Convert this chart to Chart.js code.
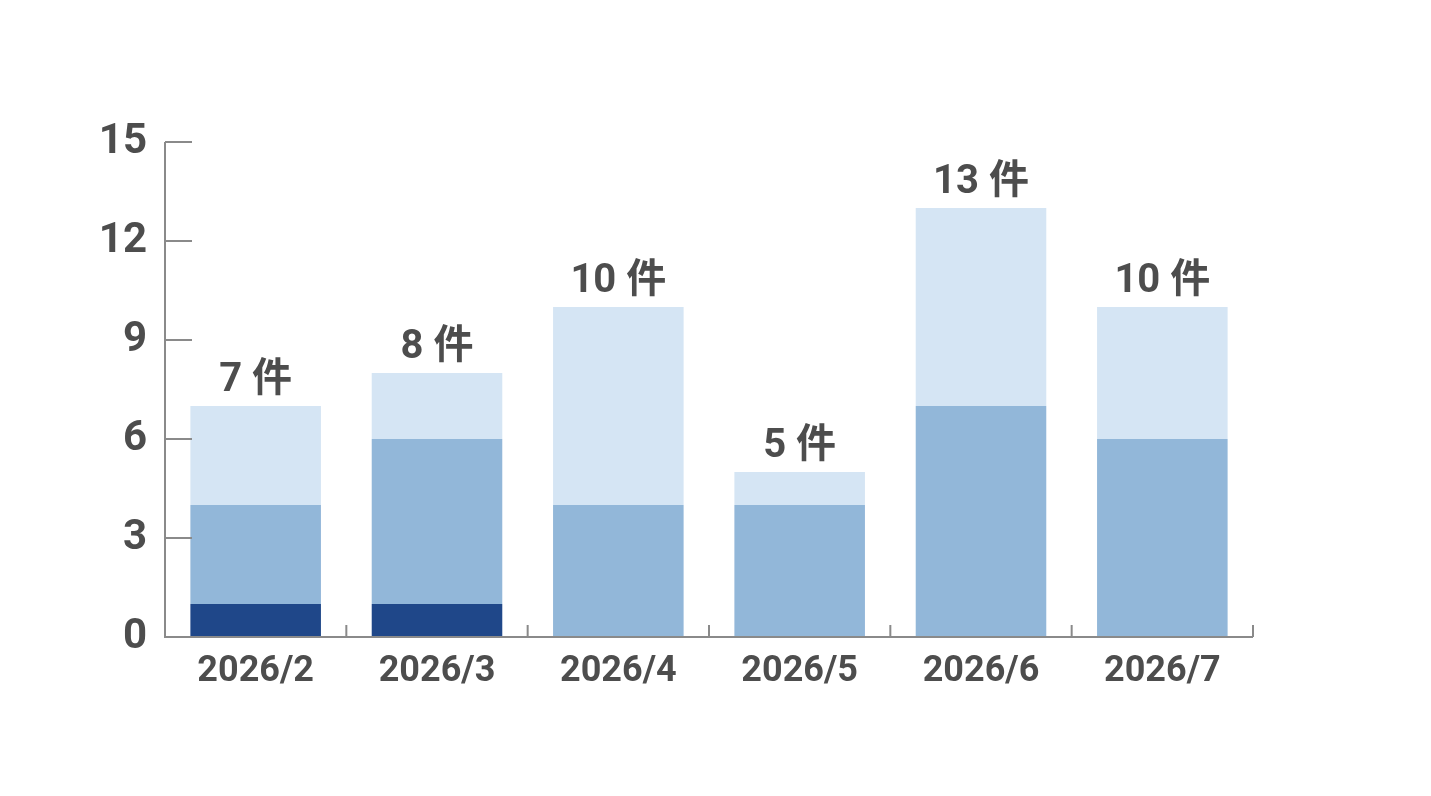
<!DOCTYPE html>
<html>
<head>
<meta charset="utf-8">
<script src="https://cdn.jsdelivr.net/npm/chart.js@4"></script>
<style>
  html, body { margin: 0; padding: 0; background: #fff; }
  #wrap { width: 1431px; height: 796px; }
</style>
</head>
<body>
<div id="wrap"><canvas id="bar-chart"></canvas></div>
<script>
"use strict";

const months = ["2026/2", "2026/3", "2026/4", "2026/5", "2026/6", "2026/7"];
const darkCounts = [1, 1, 0, 0, 0, 0];
const midCounts = [3, 5, 4, 4, 7, 6];
const lightCounts = [3, 2, 6, 1, 6, 4];
const yTicks = [0, 3, 6, 9, 12, 15];
const unitLabel = "件";

const textColor = "#4d4d4d";
const axisColor = "#8a8a8a";
const fontFamily = "Roboto, 'Noto Sans CJK JP', sans-serif";

// short inward ticks + axis lines
const axisPlugin = {
  id: "axisPlugin",
  afterDatasetsDraw(chart) {
    const { ctx, chartArea, scales } = chart;
    const { left, right, top, bottom } = chartArea;
    ctx.save();
    ctx.strokeStyle = axisColor;
    ctx.lineWidth = 2;
    ctx.beginPath();
    ctx.moveTo(left, top);
    ctx.lineTo(left, bottom);
    ctx.lineTo(right, bottom);
    yTicks.forEach((v) => {
      const y = scales.y.getPixelForValue(v);
      ctx.moveTo(left, y);
      ctx.lineTo(left + 27, y);
    });
    const step = (right - left) / months.length;
    for (let i = 1; i <= months.length; i++) {
      const x = left + i * step;
      ctx.moveTo(x, bottom);
      ctx.lineTo(x, bottom - 12);
    }
    ctx.stroke();

    // totals above bars
    ctx.fillStyle = textColor;
    ctx.textAlign = "center";
    ctx.textBaseline = "alphabetic";
    ctx.font = "bold 40px " + fontFamily;
    months.forEach((m, i) => {
      const total = darkCounts[i] + midCounts[i] + lightCounts[i];
      const x = scales.x.getPixelForValue(i);
      const y = scales.y.getPixelForValue(total) - 15;
      ctx.fillText(total + " " + unitLabel, x, y);
    });
    ctx.restore();
  },
};

const barChart = document.getElementById("bar-chart");
new Chart(barChart, {
  type: "bar",
  data: {
    labels: months,
    datasets: [
      { label: "dark", data: darkCounts, backgroundColor: "#1f4789" },
      { label: "mid", data: midCounts, backgroundColor: "#92b7d9" },
      { label: "light", data: lightCounts, backgroundColor: "#d5e5f4" },
    ],
  },
  options: {
    responsive: true,
    maintainAspectRatio: false,
    animation: false,
    layout: { padding: { top: 142, right: 178, left: 0, bottom: 0 } },
    datasets: {
      bar: { barPercentage: 0.72, categoryPercentage: 1, borderWidth: 0 },
    },
    plugins: {
      legend: { display: false },
      tooltip: { enabled: false },
    },
    scales: {
      x: {
        stacked: true,
        grid: { display: false, drawTicks: false },
        border: { display: false },
        ticks: {
          color: textColor,
          padding: 13,
          font: { family: fontFamily, size: 36, weight: "bold" },
        },
        afterFit(scale) {
          scale.height = 159;
        },
      },
      y: {
        stacked: true,
        min: 0,
        max: 15,
        grid: { display: false, drawTicks: false },
        border: { display: false },
        ticks: {
          stepSize: 3,
          color: textColor,
          padding: 18,
          font: { family: fontFamily, size: 42, weight: "bold" },
        },
        afterFit(scale) {
          scale.width = 165;
        },
      },
    },
  },
  plugins: [axisPlugin],
});
</script>
</body>
</html>
